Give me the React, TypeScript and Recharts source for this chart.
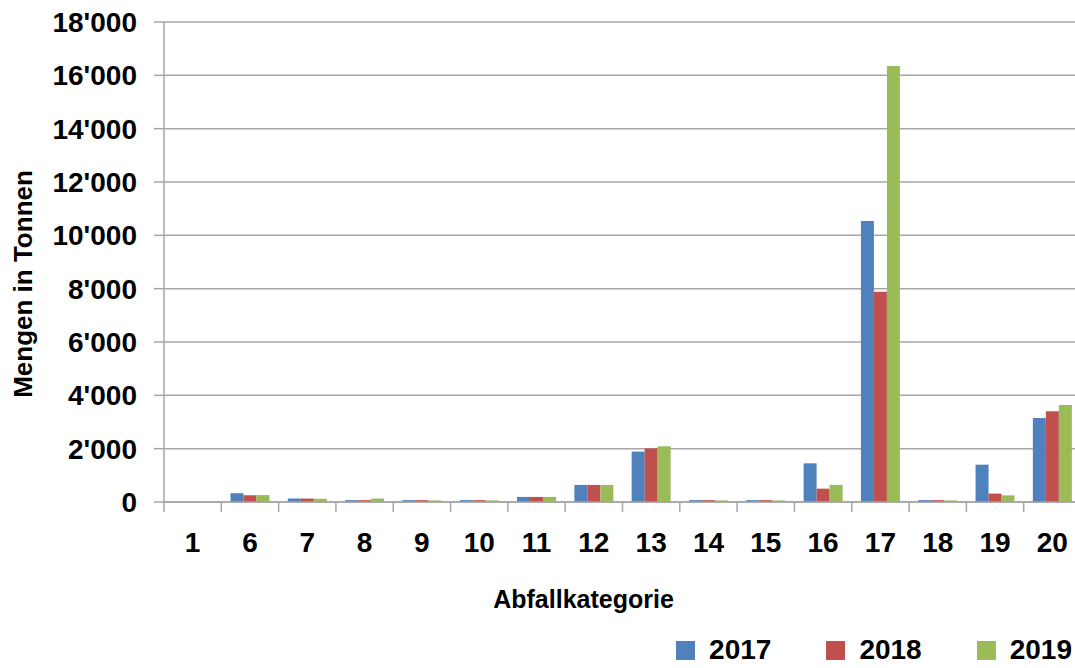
import { BarChart, Bar, XAxis, YAxis, CartesianGrid, Legend } from 'recharts';

const categories = ['1', '6', '7', '8', '9', '10', '11', '12', '13', '14', '15', '16', '17', '18', '19', '20'];
const values2017 = [0, 330, 130, 70, 70, 70, 190, 640, 1890, 70, 70, 1450, 10540, 70, 1400, 3150];
const values2018 = [0, 250, 130, 70, 70, 70, 190, 640, 2010, 70, 70, 500, 7880, 70, 315, 3400];
const values2019 = [0, 260, 120, 130, 60, 60, 190, 640, 2090, 60, 60, 640, 16350, 60, 250, 3640];
const yTicks = [0, 2000, 4000, 6000, 8000, 10000, 12000, 14000, 16000, 18000];

const series = [
  { key: 'y2017', name: '2017', color: '#4F81BD' },
  { key: 'y2018', name: '2018', color: '#C0504D' },
  { key: 'y2019', name: '2019', color: '#9BBB59' },
];

const data = categories.map((c, i) => ({
  cat: c,
  y2017: values2017[i],
  y2018: values2018[i],
  y2019: values2019[i],
}));

const FONT = '"Liberation Sans", Arial, sans-serif';
const GRID = '#A6A6A6';

const fmt = (v: number) => {
  if (v === 0) return '0';
  const th = Math.floor(v / 1000);
  const rest = String(v % 1000).padStart(3, '0');
  return `${th}'${rest}`;
};

// category ticks: label centred, tick mark at the left boundary of the band
const XTick = (props: any) => {
  const { x, y, payload } = props;
  const half = payload.offset ?? 28.6;
  return (
    <g>
      <line x1={x - half} x2={x - half} y1={y} y2={y + 10} stroke={GRID} strokeWidth={1.5} />
      <text x={x} y={y + 50} textAnchor="middle" fontFamily={FONT} fontWeight="bold" fontSize={28} fill="#000">
        {payload.value}
      </text>
    </g>
  );
};

const XTitle = (props: any) => {
  const { viewBox } = props;
  return (
    <text
      x={viewBox.x + viewBox.width / 2 - 39}
      y={viewBox.y + 106}
      textAnchor="middle"
      fontFamily={FONT}
      fontWeight="bold"
      fontSize={25}
      fill="#000"
    >
      Abfallkategorie
    </text>
  );
};

const YTitle = (props: any) => {
  const { viewBox } = props;
  const cx = 32;
  const cy = viewBox.y + viewBox.height / 2 + 22;
  return (
    <text
      x={cx}
      y={cy}
      transform={`rotate(-90 ${cx} ${cy})`}
      textAnchor="middle"
      fontFamily={FONT}
      fontWeight="bold"
      fontSize={26}
      fill="#000"
    >
      Mengen in Tonnen
    </text>
  );
};

const LegendBox = () => (
  <div
    style={{
      height: 40,
      boxSizing: 'border-box',
      paddingTop: 4,
      paddingRight: 3,
      display: 'flex',
      justifyContent: 'flex-end',
      alignItems: 'center',
      fontFamily: FONT,
      fontWeight: 'bold',
      fontSize: 28,
      color: '#000',
    }}
  >
    {series.map((s, i) => (
      <div key={s.key} style={{ display: 'flex', alignItems: 'center', marginLeft: i === 0 ? 0 : 55 }}>
        <span style={{ display: 'inline-block', width: 19, height: 19, background: s.color, marginRight: 14 }} />
        <span style={{ lineHeight: '32px' }}>{s.name}</span>
      </div>
    ))}
  </div>
);

export default function App() {
  return (
    <div style={{ position: 'absolute', left: 0, top: 0, width: 1075, height: 668, overflow: 'hidden', background: '#fff' }}>
      <BarChart
        width={1090}
        height={668}
        data={data}
        margin={{ top: 22, right: 9, bottom: 0, left: 0 }}
        barCategoryGap="16%"
        barGap={0}
      >
        <CartesianGrid vertical={false} stroke={GRID} strokeWidth={1.5} />
        <XAxis
          dataKey="cat"
          height={126}
          axisLine={{ stroke: GRID, strokeWidth: 1.5 }}
          tickLine={false}
          tickSize={0}
          tickMargin={0}
          interval={0}
          tick={<XTick />}
          label={<XTitle />}
        />
        <YAxis
          width={164}
          domain={[0, 18000]}
          ticks={yTicks}
          interval={0}
          tickFormatter={fmt}
          axisLine={{ stroke: GRID, strokeWidth: 1.5 }}
          tickLine={{ stroke: GRID, strokeWidth: 1.5 }}
          tickSize={10}
          tickMargin={17}
          tick={{ fontFamily: FONT, fontWeight: 'bold', fontSize: 28, fill: '#000' }}
          label={<YTitle />}
        />
        <Legend
          verticalAlign="bottom"
          height={40}
          wrapperStyle={{ left: 0, right: 'auto', bottom: 0, width: 1075 }}
          content={<LegendBox />}
        />
        {series.map((s) => (
          <Bar key={s.key} dataKey={s.key} name={s.name} fill={s.color} isAnimationActive={false} />
        ))}
      </BarChart>
    </div>
  );
}
